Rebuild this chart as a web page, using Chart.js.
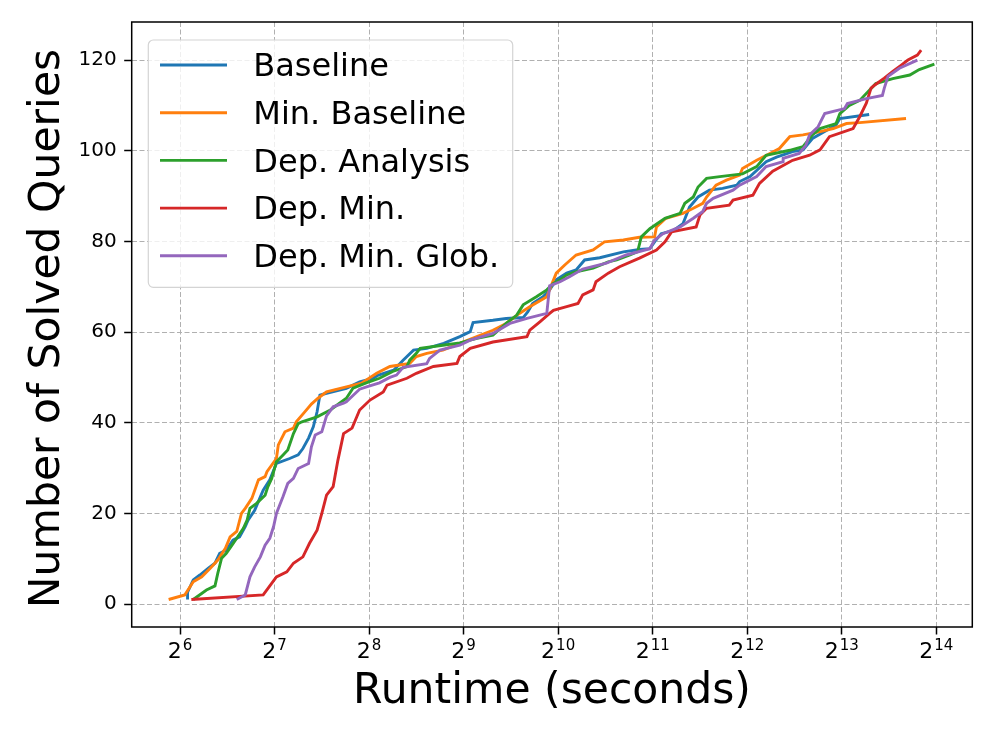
<!DOCTYPE html>
<html>
<head>
<meta charset="utf-8">
<script src="https://cdn.jsdelivr.net/npm/chart.js@4.4.1/dist/chart.umd.min.js"></script>
<style>
  html, body { margin: 0; padding: 0; background: #fff; }
</style>
</head>
<body>
<canvas id="runtimeChart" width="996" height="747"></canvas>
<script>
// Runtimes are stored as log2(seconds); y is the number of solved queries
const seriesNames = ['Baseline', 'Min. Baseline', 'Dep. Analysis', 'Dep. Min.', 'Dep. Min. Glob.'];
const seriesColors = ['#1f77b4', '#ff7f0e', '#2ca02c', '#d62728', '#9467bd'];

const baselineLog2 = [
    6.08, 6.08, 6.14, 6.21, 6.30, 6.37, 6.42, 6.49, 6.56, 6.63,
    6.69, 6.72, 6.79, 6.88, 6.95, 7.02, 7.16, 7.25, 7.30, 7.36,
    7.41, 7.45, 7.48, 7.55, 7.76, 7.90, 8.04, 8.10, 8.26, 8.36,
    8.47, 8.61, 8.79, 8.96, 9.07, 9.10, 9.31, 9.45, 9.63, 9.68,
    9.73, 9.84, 9.91, 9.98, 10.09, 10.19, 10.28, 10.44, 10.69, 10.86,
    10.97, 11.02, 11.09, 11.22, 11.32, 11.39, 11.48, 11.60, 11.74, 11.89,
    11.92, 12.03, 12.20, 12.31, 12.48, 12.59, 12.69, 12.94, 12.98, 13.29
];
const baselineSolved = [
    1, 2.6, 5.3, 6.4, 7.9, 9.0, 11.2, 11.9, 14.1, 14.8,
    17.1, 18.5, 20.7, 25.1, 27.4, 31.0, 32.1, 32.9, 34.3, 36.6,
    39.1, 42.4, 46.1, 46.5, 47.6, 49.0, 49.8, 50.5, 51.6, 53.8,
    56.0, 56.4, 57.5, 59.0, 60.1, 62.1, 62.6, 63.0, 63.2, 64.5,
    66.3, 67.8, 69.3, 71.5, 73.0, 73.7, 75.9, 76.4, 77.7, 78.2,
    78.4, 79.9, 81.7, 82.4, 83.9, 87.6, 89.8, 91.3, 91.7, 92.4,
    93.2, 94.3, 97.6, 98.6, 99.8, 100.2, 102.7, 105.7, 107.1, 108.0
];

const minBaselineLog2 = [
    5.88, 6.05, 6.14, 6.23, 6.32, 6.40, 6.48, 6.53, 6.60, 6.65,
    6.69, 6.76, 6.83, 6.90, 6.92, 7.02, 7.04, 7.11, 7.20, 7.23,
    7.32, 7.39, 7.46, 7.55, 7.76, 7.92, 8.08, 8.22, 8.43, 8.50,
    8.61, 8.78, 8.96, 9.14, 9.31, 9.45, 9.59, 9.70, 9.79, 9.88,
    9.93, 9.98, 10.07, 10.19, 10.37, 10.49, 10.69, 10.86, 11.02, 11.04,
    11.14, 11.32, 11.43, 11.53, 11.57, 11.67, 11.78, 11.92, 11.95, 12.10,
    12.24, 12.34, 12.45, 12.59, 12.77, 12.91, 13.05, 13.19, 13.68
];
const minBaselineSolved = [
    1, 2.0, 4.9, 6.0, 7.9, 9.7, 12.3, 14.8, 16.0, 20.0,
    21.1, 23.3, 27.4, 28.1, 29.2, 32.1, 35.1, 38.0, 38.8, 40.2,
    42.4, 44.1, 45.4, 46.8, 47.9, 48.7, 50.9, 52.4, 53.1, 54.6,
    55.3, 56.0, 57.5, 59.0, 60.4, 61.9, 64.1, 65.6, 66.7, 67.8,
    70.4, 73.0, 74.8, 77.0, 78.1, 79.9, 80.3, 80.9, 81.0, 83.2,
    85.1, 86.2, 87.3, 88.4, 89.8, 92.4, 93.5, 94.6, 96.1, 97.9,
    99.4, 100.5, 103.1, 103.5, 104.2, 104.9, 106.0, 106.2, 107.1
];

const depAnalysisLog2 = [
    6.14, 6.28, 6.37, 6.40, 6.44, 6.49, 6.55, 6.60, 6.67, 6.71,
    6.74, 6.81, 6.90, 6.93, 6.97, 7.02, 7.09, 7.14, 7.20, 7.25,
    7.29, 7.45, 7.59, 7.76, 7.83, 7.97, 8.11, 8.25, 8.40, 8.43,
    8.50, 8.54, 8.78, 8.96, 9.14, 9.31, 9.45, 9.56, 9.63, 9.77,
    9.88, 9.95, 10.02, 10.09, 10.19, 10.37, 10.53, 10.62, 10.76, 10.84,
    10.88, 10.97, 11.13, 11.29, 11.34, 11.43, 11.48, 11.57, 11.71, 11.95,
    12.10, 12.20, 12.45, 12.59, 12.69, 12.77, 12.94, 12.98, 13.08, 13.19,
    13.29, 13.36, 13.54, 13.72, 13.82, 13.98
];
const depAnalysisSolved = [
    1, 3.1, 4.0, 6.8, 10.1, 11.2, 13.0, 14.5, 16.7, 18.5,
    21.1, 22.2, 24.0, 25.9, 27.7, 31.4, 32.9, 34.0, 37.6, 39.8,
    40.2, 41.3, 42.8, 45.4, 47.6, 48.8, 49.8, 51.3, 52.4, 53.8,
    55.3, 56.4, 57.1, 57.6, 58.6, 59.3, 61.9, 63.7, 66.0, 67.8,
    69.3, 70.7, 71.5, 72.6, 73.3, 74.1, 75.5, 75.9, 77.0, 77.7,
    81.0, 82.8, 85.1, 86.2, 88.4, 89.8, 92.0, 93.9, 94.3, 94.9,
    96.5, 99.0, 100.1, 100.9, 103.5, 104.9, 106.0, 108.2, 110.0, 111.1,
    113.3, 114.8, 115.9, 116.7, 117.9, 119.1
];

const depMinLog2 = [
    6.12, 6.88, 7.02, 7.13, 7.20, 7.30, 7.37, 7.45, 7.50, 7.55,
    7.62, 7.67, 7.73, 7.82, 7.90, 8.01, 8.15, 8.19, 8.40, 8.50,
    8.68, 8.93, 8.96, 9.07, 9.31, 9.67, 9.70, 9.81, 9.91, 9.95,
    10.09, 10.21, 10.26, 10.37, 10.40, 10.53, 10.65, 10.86, 11.04, 11.13,
    11.20, 11.46, 11.50, 11.57, 11.81, 11.85, 12.06, 12.13, 12.27, 12.48,
    12.66, 12.77, 12.87, 13.12, 13.19, 13.26, 13.31, 13.35, 13.45, 13.54,
    13.63, 13.70, 13.80, 13.84
];
const depMinSolved = [
    1, 2.0, 6.0, 7.1, 9.0, 10.4, 13.4, 16.3, 20.0, 24.0,
    25.9, 31.7, 37.6, 38.8, 42.8, 45.0, 46.8, 48.3, 49.8, 50.9,
    52.4, 53.1, 54.6, 56.4, 57.8, 59.0, 60.4, 62.3, 64.1, 64.8,
    65.6, 66.3, 68.2, 69.3, 71.1, 73.0, 74.4, 76.3, 78.1, 79.9,
    82.1, 83.2, 85.8, 87.3, 88.0, 89.1, 90.2, 92.8, 95.5, 97.9,
    99.0, 100.2, 103.1, 104.9, 107.5, 110.5, 113.8, 114.5, 116.0, 117.5,
    118.9, 120.0, 121.1, 122.2
];

const depMinGlobLog2 = [
    6.60, 6.69, 6.74, 6.79, 6.85, 6.90, 6.95, 6.99, 7.02, 7.09,
    7.14, 7.20, 7.25, 7.36, 7.39, 7.43, 7.50, 7.55, 7.62, 7.73,
    7.76, 7.83, 7.90, 7.99, 8.11, 8.22, 8.29, 8.36, 8.61, 8.64,
    8.75, 8.96, 9.07, 9.31, 9.49, 9.67, 9.88, 9.91, 10.02, 10.12,
    10.26, 10.51, 10.72, 10.97, 11.02, 11.11, 11.29, 11.43, 11.53, 11.57,
    11.64, 11.85, 11.92, 12.10, 12.20, 12.38, 12.38, 12.55, 12.62, 12.66,
    12.75, 12.82, 13.03, 13.06, 13.26, 13.43, 13.45, 13.49, 13.61, 13.80
];
const depMinGlobSolved = [
    1, 2.0, 6.0, 8.2, 10.4, 13.0, 14.5, 17.1, 20.0, 23.7,
    26.6, 27.7, 29.9, 31.0, 34.7, 37.3, 38.0, 41.5, 43.5, 44.3,
    44.6, 46.0, 47.4, 48.0, 48.8, 50.0, 50.5, 52.2, 53.0, 54.2,
    56.0, 57.1, 58.2, 59.7, 61.9, 63.0, 64.1, 70.2, 71.1, 72.2,
    73.9, 75.2, 77.0, 78.4, 80.3, 81.7, 83.2, 85.1, 86.6, 88.4,
    89.5, 91.3, 92.4, 94.3, 96.5, 97.6, 98.3, 99.4, 101.2, 103.5,
    105.3, 108.2, 109.3, 110.4, 111.5, 112.2, 113.8, 116.4, 118.2, 120.0
];

const xTickExponents = [6, 7, 8, 9, 10, 11, 12, 13, 14];
const yTickValues = [0, 20, 40, 60, 80, 100, 120];

const seriesX = [baselineLog2, minBaselineLog2, depAnalysisLog2, depMinLog2, depMinGlobLog2];
const seriesY = [baselineSolved, minBaselineSolved, depAnalysisSolved, depMinSolved, depMinGlobSolved];

const FONT = '"DejaVu Sans", "Liberation Sans", sans-serif';

// matplotlib-like frame, legend, tick labels with exponents and axis titles
const decorations = {
    id: 'decorations',
    afterDatasetsDraw(chart) {
        const { ctx, chartArea: a } = chart;
        ctx.save();
        ctx.strokeStyle = '#000';
        ctx.lineWidth = 1.5;
        ctx.strokeRect(a.left, a.top, a.right - a.left, a.bottom - a.top);

        // legend box
        const bx = a.left + 16.6, by = a.top + 18, bw = 364.4, bh = 247.3, r = 5;
        ctx.beginPath();
        ctx.moveTo(bx + r, by);
        ctx.arcTo(bx + bw, by, bx + bw, by + bh, r);
        ctx.arcTo(bx + bw, by + bh, bx, by + bh, r);
        ctx.arcTo(bx, by + bh, bx, by, r);
        ctx.arcTo(bx, by, bx + bw, by, r);
        ctx.closePath();
        ctx.fillStyle = 'rgba(255,255,255,0.8)';
        ctx.fill();
        ctx.strokeStyle = '#d4d4d4';
        ctx.lineWidth = 1.2;
        ctx.stroke();

        ctx.font = '32px ' + FONT;
        ctx.textBaseline = 'middle';
        ctx.textAlign = 'left';
        seriesNames.forEach((name, i) => {
            const yy = by + 25 + i * 47.7;
            ctx.strokeStyle = seriesColors[i];
            ctx.lineWidth = 2.9;
            ctx.beginPath();
            ctx.moveTo(a.left + 28.3, yy);
            ctx.lineTo(a.left + 95.3, yy);
            ctx.stroke();
            ctx.fillStyle = '#000';
            ctx.fillText(name, a.left + 121.6, yy + 3);
        });
        ctx.restore();
    },
    afterDraw(chart) {
        const { ctx, chartArea: a, scales: { x } } = chart;
        ctx.save();
        ctx.fillStyle = '#000';
        ctx.textBaseline = 'alphabetic';
        ctx.textAlign = 'left';
        xTickExponents.forEach(e => {
            const px = x.getPixelForValue(e);
            ctx.font = '22px ' + FONT;
            const wBase = ctx.measureText('2').width;
            ctx.font = '15px ' + FONT;
            const wExp = ctx.measureText(String(e)).width;
            const start = px - (wBase + wExp + 1) / 2;
            ctx.font = '22px ' + FONT;
            ctx.fillText('2', start, 658);
            ctx.font = '15px ' + FONT;
            ctx.fillText(String(e), start + wBase + 1, 649.5);
        });

        ctx.font = '42.5px ' + FONT;
        ctx.textAlign = 'center';
        ctx.fillText('Runtime (seconds)', (a.left + a.right) / 2, 703);

        ctx.translate(58.5, (a.top + a.bottom) / 2 + 4);
        ctx.rotate(-Math.PI / 2);
        ctx.fillText('Number of Solved Queries', 0, 0);
        ctx.restore();
    }
};

const datasets = seriesNames.map((name, i) => ({
    label: name,
    data: seriesX[i].map((v, j) => ({ x: v, y: seriesY[i][j] })),
    borderColor: seriesColors[i],
    backgroundColor: seriesColors[i],
    borderWidth: 2.9,
    pointRadius: 0,
    tension: 0,
    fill: false,
    order: seriesNames.length - i
}));

const gridStyle = {
    color: '#b0b0b0',
    lineWidth: 1,
    drawTicks: true,
    tickLength: 7.5,
    tickColor: '#000',
    tickWidth: 1.5,
    tickBorderDash: []
};

const ctx = document.getElementById('runtimeChart').getContext('2d');

const runtimeChart = new Chart(ctx, {
    type: 'line',
    data: { datasets },
    plugins: [decorations],
    options: {
        responsive: false,
        animation: false,
        devicePixelRatio: 1,
        layout: { padding: { top: 22, right: 23.7, left: 0, bottom: 0 } },
        plugins: {
            legend: { display: false },
            tooltip: { enabled: false }
        },
        scales: {
            x: {
                type: 'linear',
                min: 5.489,
                max: 14.381,
                grid: gridStyle,
                border: { display: false, dash: [5, 2.5] },
                ticks: { display: false },
                afterBuildTicks: scale => {
                    scale.ticks = xTickExponents.map(v => ({ value: v }));
                },
                afterFit: scale => { scale.height = 120; }
            },
            y: {
                type: 'linear',
                min: -5.07,
                max: 128.4,
                grid: gridStyle,
                border: { display: false, dash: [5, 2.5] },
                ticks: {
                    color: '#000',
                    padding: 7.5,
                    font: { family: FONT, size: 20 }
                },
                afterBuildTicks: scale => {
                    scale.ticks = yTickValues.map(v => ({ value: v }));
                },
                afterFit: scale => { scale.width = 131.7; }
            }
        }
    }
});
</script>
</body>
</html>
